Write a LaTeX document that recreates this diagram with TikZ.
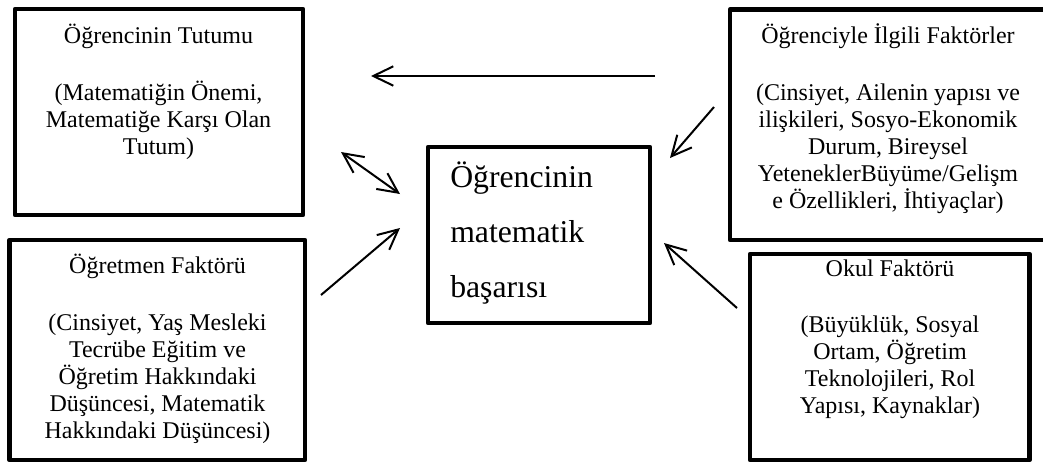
\documentclass[tikz,border=0pt]{standalone}
\usepackage{fontspec}
\setmainfont{Liberation Serif}
\usetikzlibrary{arrows.meta}

\newcommand{\boxtitle}[1]{\parbox[t]{215pt}{\centering\fontsize{18pt}{20.25pt}\selectfont #1}}

\begin{document}
\begin{tikzpicture}[x=0.75pt,y=-0.75pt,
  frame/.style={draw, line width=3.3pt, line join=round, rectangle, inner sep=0pt},
  boxtext/.style={inner sep=0pt, anchor=base},
  flow/.style={line width=1.5pt, -{Straight Barb[length=15pt,width=14.5pt]}},
  twoway/.style={line width=1.5pt, {Straight Barb[length=15pt,width=14.5pt]}-{Straight Barb[length=15pt,width=14.5pt]}}
]
\useasboundingbox (0,0) rectangle (1043,462);
\clip (0,0) rectangle (1043,462);

% frames
\node[frame, minimum width=216pt, minimum height=154.5pt] (tutum) at (159,112) {};
\node[frame, minimum width=237pt, minimum height=172.9pt] (ogrenci) at (888,124.75) {};
\node[frame, minimum width=221.6pt, minimum height=165pt] (ogretmen) at (157.25,350) {};
\node[frame, minimum width=209.6pt, minimum height=154.5pt] (okul) at (889.75,357) {};
\node[frame, minimum width=166.5pt, minimum height=132pt] (basari) at (539,235) {};

% texts
\node[boxtext] (tutumtxt) at (158.5,43) {\boxtitle{Öğrencinin Tutumu\\[22.5pt]
  (Matematiğin Önemi,\\ Matematiğe Karşı Olan\\ Tutum)}};
\node[boxtext] (ogrencitxt) at (888,43) {\boxtitle{Öğrenciyle İlgili Faktörler\\[22.5pt]
  (Cinsiyet, Ailenin yapısı ve\\ ilişkileri, Sosyo-Ekonomik\\ Durum, Bireysel\\
  YeteneklerBüyüme/Gelişm\\ e Özellikleri, İhtiyaçlar)}};
\node[boxtext] (ogretmentxt) at (157.5,273) {\boxtitle{Öğretmen Faktörü\\[22.5pt]
  (Cinsiyet, Yaş Mesleki\\ Tecrübe Eğitim ve\\ Öğretim Hakkındaki\\
  Düşüncesi, Matematik\\ Hakkındaki Düşüncesi)}};
\node[boxtext] (okultxt) at (890,276.5) {\boxtitle{Okul Faktörü\\[21.75pt]
  (Büyüklük, Sosyal\\ Ortam, Öğretim\\ Teknolojileri, Rol\\ Yapısı, Kaynaklar)}};
\node[inner sep=0pt, anchor=base west] (basaritxt) at (450,187)
  {\parbox[t]{160pt}{\raggedright\fontsize{23.8pt}{41.25pt}\selectfont
   Öğrencinin\\ matematik\\ başarısı}};

% arrow end points
\coordinate (a1s) at (655,76);    \coordinate (a1e) at (371,76);
\coordinate (a2s) at (341,152);   \coordinate (a2e) at (400,194);
\coordinate (a3s) at (321,295);   \coordinate (a3e) at (400,228);
\coordinate (a4s) at (714,107);   \coordinate (a4e) at (670,158);
\coordinate (a5s) at (737,308);   \coordinate (a5e) at (664,243);

\draw[flow] (a1s) -- (a1e);
\draw[twoway] (a2s) -- (a2e);
\draw[flow] (a3s) -- (a3e);
\draw[flow] (a4s) -- (a4e);
\draw[flow] (a5s) -- (a5e);
\end{tikzpicture}
\end{document}
